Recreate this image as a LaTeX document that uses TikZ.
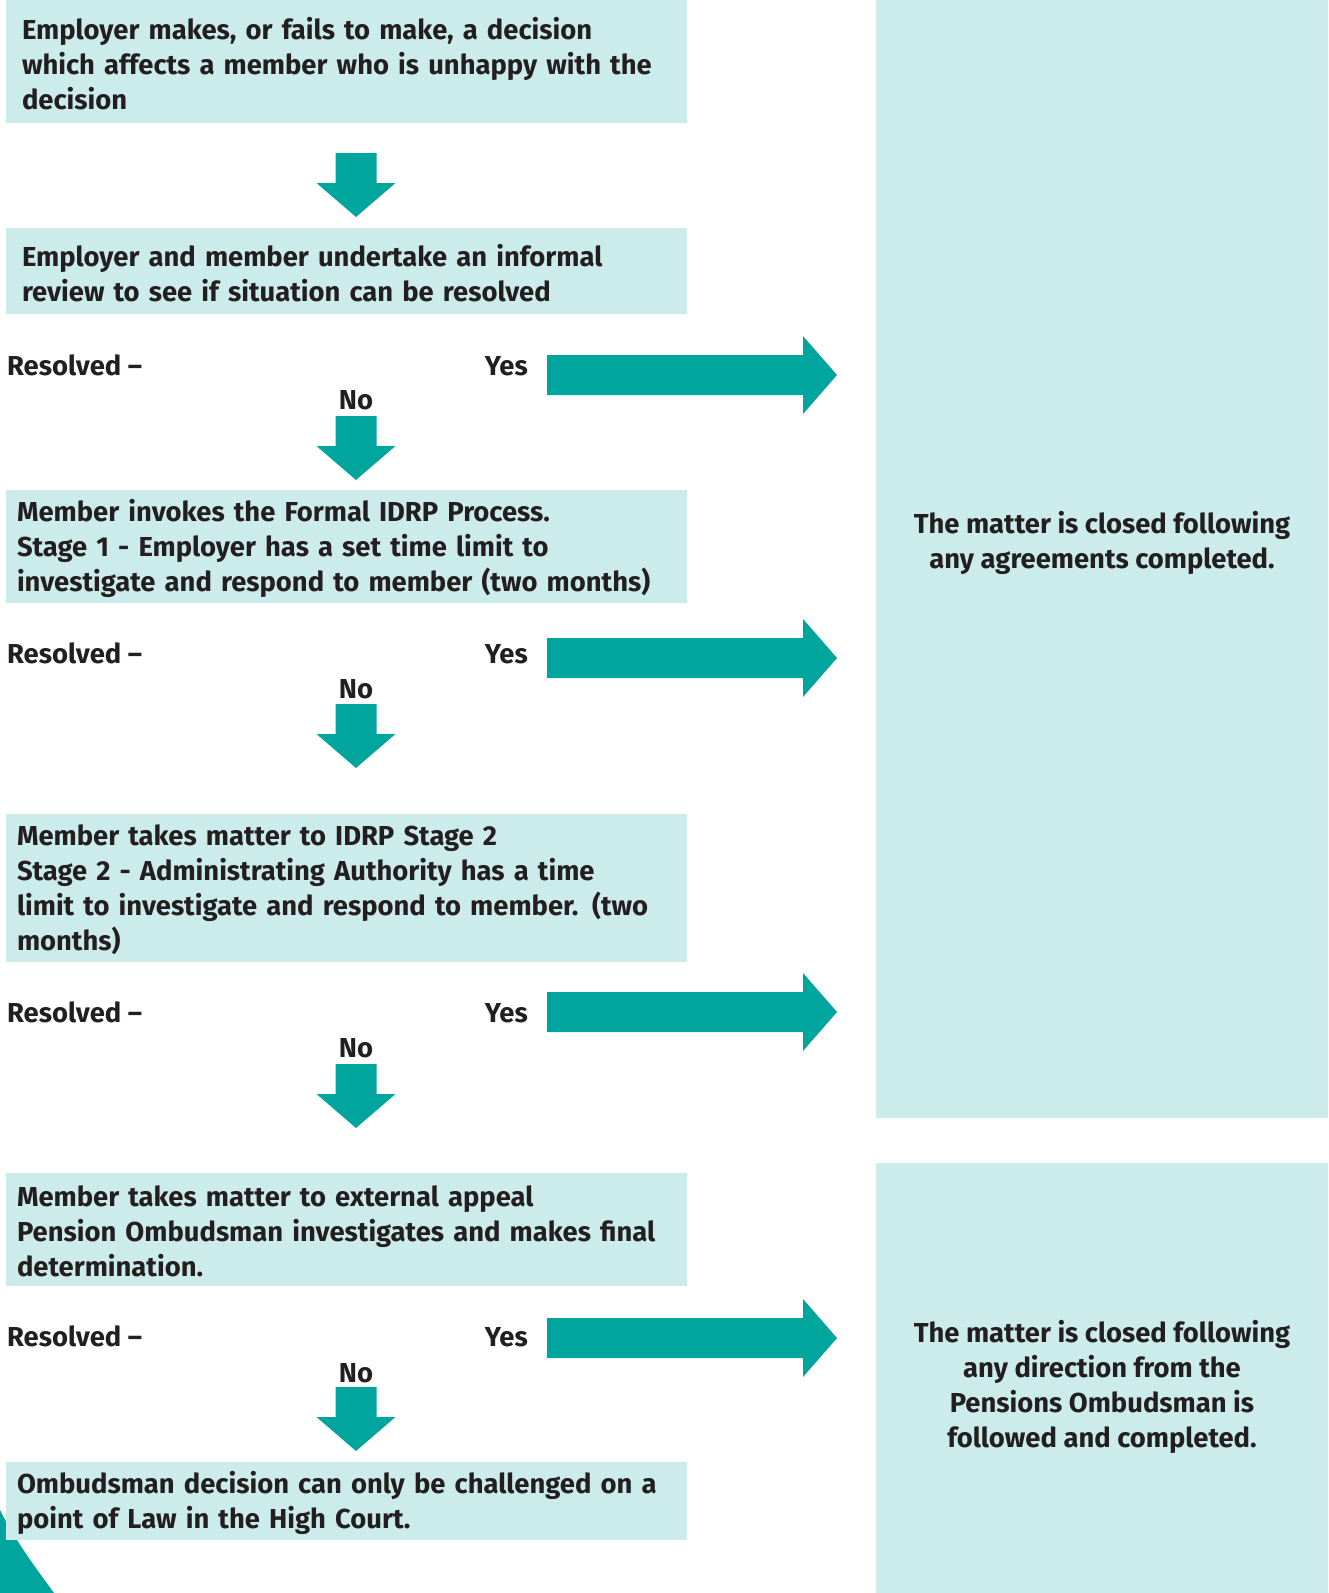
\documentclass[tikz,border=0pt]{standalone}
\usepackage{fontspec}
\setmainfont{Fira Sans}
\definecolor{pale}{HTML}{CCECEB}
\definecolor{arrteal}{HTML}{00A59D}
\definecolor{ink}{HTML}{231F20}
\begin{document}
\begin{tikzpicture}[x=1pt,y=-1pt,
  txt/.style={font=\bfseries\fontsize{27.4}{35}\selectfont, text=ink, inner sep=0pt},
  lbox/.style={fill=pale, minimum width=681pt, inner sep=0pt},
  ltext/.style={txt, align=left, text width=#1, yshift=-2pt},
  rbox/.style={fill=pale, minimum width=452pt, inner sep=0pt},
  downarr/.pic={\fill[arrteal] (-20.5,0) -- (20.5,0) -- (20.5,30) -- (39.5,30) -- (0,64) -- (-39.5,30) -- (-20.5,30) -- cycle;},
  rightarr/.pic={\fill[arrteal] (0,-20) -- (256,-20) -- (256,-39) -- (290,0) -- (256,39) -- (256,20) -- (0,20) -- cycle;}
]
\useasboundingbox (0,0) rectangle (1328,1593);
\fill[white] (0,0) rectangle (1328,1593);
% corner decoration
\fill[arrteal] (0,1510) .. controls (14,1538) and (32,1563) .. (54,1593) -- (0,1593) -- cycle;
% left boxes
\node[lbox, minimum height=123pt] (b1) at (346.5,61.5) {};
\node[lbox, minimum height=86pt] (b2) at (346.5,271) {};
\node[lbox, minimum height=113pt] (b3) at (346.5,546.5) {};
\node[lbox, minimum height=148pt] (b4) at (346.5,888) {};
\node[lbox, minimum height=113pt] (b5) at (346.5,1229.5) {};
\node[lbox, minimum height=78pt] (b6) at (346.5,1501) {};
\node[ltext=649pt] (b1t) at (b1.center)
  {Employer makes, or fails to make, a decision\\which affects a member who is unhappy with the\\decision};
\node[ltext=649pt] (b2t) at (b2.center)
  {Employer and member undertake an informal\\review to see if situation can be resolved};
\node[ltext=659pt] (b3t) at (b3.center)
  {Member invokes the Formal IDRP Process.\\Stage 1 - Employer has a set time limit to\\investigate and respond to member (two months)};
\node[ltext=659pt] (b4t) at (b4.center)
  {Member takes matter to IDRP Stage 2\\Stage 2 - Administrating Authority has a time\\limit to investigate and respond to member. (two\\months)};
\node[ltext=659pt] (b5t) at (b5.center)
  {Member takes matter to external appeal\\Pension Ombudsman investigates and makes final\\determination.};
\node[ltext=659pt] (b6t) at (b6.center)
  {Ombudsman decision can only be challenged on a\\point of Law in the High Court.};
% right boxes
\node[rbox, minimum height=1118pt] (r1) at (1102,559) {};
\node[rbox, minimum height=430pt] (r2) at (1102,1378) {};
\node[txt, align=center] (t1) at (1102,543) {The matter is closed following\\any agreements completed.};
\node[txt, align=center] (t2) at (1102,1387) {The matter is closed following\\any direction from the\\Pensions Ombudsman is\\followed and completed.};
% down arrows
\pic at (356,153) {downarr};
\pic at (356,416) {downarr};
\pic at (356,704) {downarr};
\pic at (356,1064) {downarr};
\pic at (356,1387) {downarr};
% resolved rows
\foreach \y/\n in {375/1,663/2,1022/3,1346/4}{
  \node[txt, anchor=base west] (res\n) at (7,\y) {Resolved –};
  \node[txt, anchor=base east] (yes\n) at (528,\y) {Yes};
}
\foreach \y/\n in {409/1,698/2,1057/3,1382/4}{
  \node[txt, anchor=base] (no\n) at (356,\y) {No};
}
\foreach \y in {375,658,1012,1338}{
  \pic at (547,\y) {rightarr};
}
\end{tikzpicture}
\end{document}
